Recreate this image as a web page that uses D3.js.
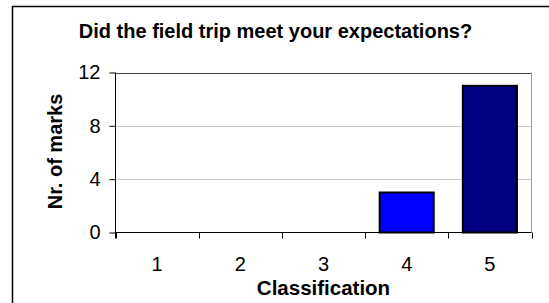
<!DOCTYPE html>
<html>
<head>
<meta charset="utf-8">
<script src="https://cdn.jsdelivr.net/npm/d3@7"></script>
<style>
  body { margin: 0; background: #fff; }
  svg { display: block; font-family: "Liberation Sans", Arial, sans-serif; }
</style>
</head>
<body>
<svg id="chart" width="549" height="303"></svg>
<script>
const categories = ["1", "2", "3", "4", "5"];
const marks = [0, 0, 0, 3, 11];
const barColors = ["#0000ff", "#0000ff", "#0000ff", "#0000ff", "#000080"];
const yTicks = [0, 4, 8, 12];

const svg = d3.select("#chart");
const plot = { left: 115.5, right: 531.5, top: 72.5, bottom: 232.5 };

// outer chart border (runs off the right/bottom edges)
svg.append("rect")
  .attr("x", 12.5).attr("y", 6.5)
  .attr("width", 600).attr("height", 400)
  .attr("fill", "#fff").attr("stroke", "#000").attr("stroke-width", 1.5);

const x = d3.scaleBand()
  .domain(categories)
  .range([plot.left, plot.right])
  .paddingInner(0.35)
  .paddingOuter(0.175);

const y = d3.scaleLinear().domain([0, 12]).range([plot.bottom, plot.top]);

// gridlines
svg.append("g")
  .selectAll("line")
  .data(yTicks.filter(d => d > 0))
  .join("line")
  .attr("x1", plot.left).attr("x2", plot.right)
  .attr("y1", d => Math.round(y(d)) + 0.5).attr("y2", d => Math.round(y(d)) + 0.5)
  .attr("stroke", d => d === 12 ? "#404040" : "#c8c8c8");

// right edge of plot area
svg.append("line")
  .attr("x1", plot.right).attr("x2", plot.right)
  .attr("y1", plot.top).attr("y2", plot.bottom)
  .attr("stroke", "#999");

// bars
const barData = categories.map((c, i) => ({ cat: c, value: marks[i], color: barColors[i] }));
svg.append("g")
  .selectAll("rect")
  .data(barData.filter(d => d.value > 0))
  .join("rect")
  .attr("x", d => x(d.cat))
  .attr("y", d => y(d.value))
  .attr("width", x.bandwidth())
  .attr("height", d => y(0) - y(d.value))
  .attr("fill", d => d.color)
  .attr("stroke", "#000")
  .attr("stroke-width", 2);

// y axis
const yAxis = svg.append("g")
  .attr("transform", `translate(${plot.left},0)`)
  .call(d3.axisLeft(y).tickValues(yTicks).tickSize(6).tickPadding(9).tickFormat(d3.format("d")));
yAxis.select(".domain").remove();
yAxis.append("line").attr("y1", plot.top).attr("y2", plot.bottom + 6).attr("stroke", "#000");
yAxis.selectAll("text").attr("font-size", 20).attr("fill", "#000").attr("font-family", null);

// x axis
const step = x.step();
const xAxis = svg.append("g")
  .attr("transform", `translate(0,${plot.bottom})`);
xAxis.append("line").attr("x1", plot.left).attr("x2", plot.right).attr("stroke", "#000");
xAxis.selectAll("line.tk")
  .data(d3.range(categories.length + 1))
  .join("line")
  .attr("class", "tk")
  .attr("x1", i => Math.round(plot.left + i * step) + 0.5)
  .attr("x2", i => Math.round(plot.left + i * step) + 0.5)
  .attr("y1", 0).attr("y2", 6)
  .attr("stroke", "#000");
xAxis.selectAll("text")
  .data(categories)
  .join("text")
  .attr("x", d => x(d) + x.bandwidth() / 2)
  .attr("y", 38)
  .attr("text-anchor", "middle")
  .attr("font-size", 20)
  .text(d => d);

// titles
svg.append("text")
  .attr("x", 275.5).attr("y", 38)
  .attr("text-anchor", "middle")
  .attr("font-size", 20).attr("font-weight", "bold")
  .text("Did the field trip meet your expectations?");

svg.append("text")
  .attr("transform", `translate(62,${(plot.top + plot.bottom) / 2 - 1}) rotate(-90)`)
  .attr("text-anchor", "middle")
  .attr("font-size", 20).attr("font-weight", "bold")
  .text("Nr. of marks");

svg.append("text")
  .attr("x", (plot.left + plot.right) / 2).attr("y", 295)
  .attr("text-anchor", "middle")
  .attr("font-size", 20.5).attr("font-weight", "bold")
  .text("Classification");
</script>
</body>
</html>
